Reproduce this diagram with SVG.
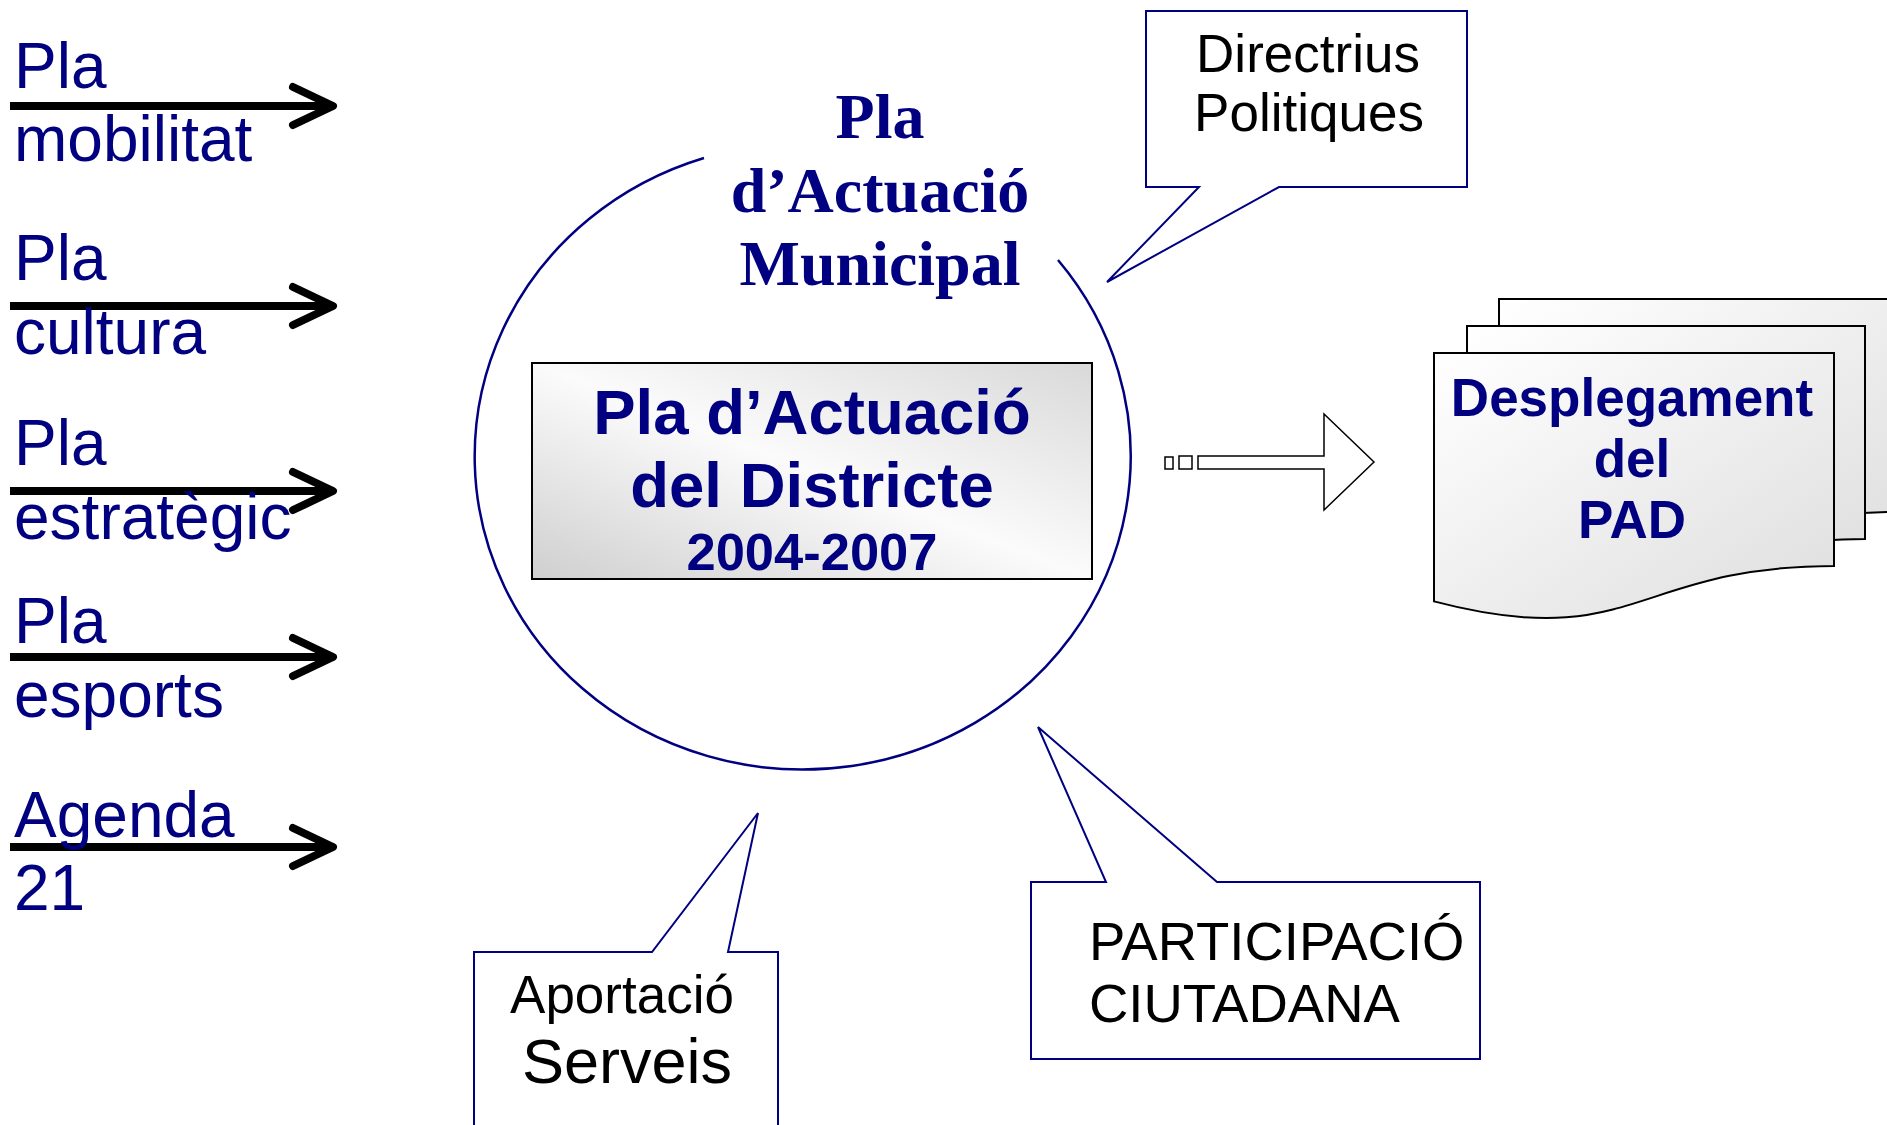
<svg xmlns="http://www.w3.org/2000/svg" width="1887" height="1125" viewBox="0 0 1887 1125">
<defs>
<style>
.lbl{font-family:"Liberation Sans",Arial,sans-serif;font-size:64px;fill:#000080}
.blue{fill:none;stroke:#000080;stroke-width:2.5}
.call{fill:#ffffff;stroke:#000080;stroke-width:2}
.ctext{font-family:"Liberation Sans",Arial,sans-serif;fill:#000000}
.bold{font-family:"Liberation Sans",Arial,sans-serif;font-weight:bold;fill:#000080}
.arr{fill:none;stroke:#000000;stroke-width:8}
.doc{fill:url(#docg);stroke:#000000;stroke-width:2}
</style>
<linearGradient id="docg" x1="0" y1="0" x2="1" y2="1">
<stop offset="0" stop-color="#ffffff"/>
<stop offset="1" stop-color="#dedede"/>
</linearGradient>
<linearGradient id="boxg" x1="0" y1="1" x2="1" y2="0">
<stop offset="0" stop-color="#cfcfcf"/>
<stop offset="0.5" stop-color="#fbfbfb"/>
<stop offset="1" stop-color="#d9d9d9"/>
</linearGradient>
</defs>
<rect width="1887" height="1125" fill="#ffffff"/>

<g id="connectors">
<g class="arr">
<line x1="10" y1="106" x2="328" y2="106"/>
<polyline points="293,87 333,106 293,125" stroke-linecap="round" stroke-linejoin="round"/>
<line x1="10" y1="306" x2="328" y2="306"/>
<polyline points="293,287 333,306 293,325" stroke-linecap="round" stroke-linejoin="round"/>
<line x1="10" y1="491" x2="328" y2="491"/>
<polyline points="293,472 333,491 293,510" stroke-linecap="round" stroke-linejoin="round"/>
<line x1="10" y1="657" x2="328" y2="657"/>
<polyline points="293,638 333,657 293,676" stroke-linecap="round" stroke-linejoin="round"/>
<line x1="10" y1="847" x2="328" y2="847"/>
<polyline points="293,828 333,847 293,866" stroke-linecap="round" stroke-linejoin="round"/>
</g>
<g id="striped-arrow" fill="#ffffff" stroke="#000000" stroke-width="1.5">
<rect x="1165" y="457" width="8" height="12"/>
<rect x="1179" y="456" width="13" height="13"/>
<polygon points="1198,456 1324,456 1324,414 1374,462 1324,510 1324,469 1198,469"/>
</g>
</g>

<g id="pla-mobilitat"><text class="lbl" x="14" y="88">Pla</text><text class="lbl" x="14" y="161">mobilitat</text></g>
<g id="pla-cultura"><text class="lbl" x="14" y="280">Pla</text><text class="lbl" x="14" y="354">cultura</text></g>
<g id="pla-estrategic"><text class="lbl" x="14" y="465">Pla</text><text class="lbl" x="14" y="539">estratègic</text></g>
<g id="pla-esports"><text class="lbl" x="14" y="643">Pla</text><text class="lbl" x="14" y="717">esports</text></g>
<g id="agenda21"><text class="lbl" x="14" y="837">Agenda</text><text class="lbl" x="14" y="910">21</text></g>

<g id="pam">
<path class="blue" d="M704,158 A328,313 0 1 0 1058,260"/>
<g font-family="'Liberation Serif','Times New Roman',serif" font-weight="bold" font-size="64" fill="#000080" text-anchor="middle">
<text x="880" y="138">Pla</text>
<text x="880" y="212">d’Actuació</text>
<text x="880" y="285">Municipal</text>
</g>
</g>

<g id="pad">
<rect x="532" y="363" width="560" height="216" fill="url(#boxg)" stroke="#000000" stroke-width="2"/>
<g class="bold" text-anchor="middle">
<text x="812" y="434" font-size="63.5">Pla d’Actuació</text>
<text x="812" y="507" font-size="63.5">del Districte</text>
<text x="812" y="570" font-size="52.5">2004-2007</text>
</g>
</g>

<g id="directrius">
<path class="call" d="M1146,11 H1467 V187 H1279 L1107,282 L1199,187 H1146 Z"/>
<g class="ctext" font-size="53" text-anchor="middle">
<text x="1308" y="72">Directrius</text>
<text x="1309" y="131">Politiques</text>
</g>
</g>

<g id="desplegament">
<path class="doc" d="M1499,299 H1899 V512 C1699,512 1699,600 1499,547.4 Z"/>
<path class="doc" d="M1467,326 H1865 V539 C1666,539 1666,627 1467,574.4 Z"/>
<path class="doc" d="M1434,353 H1834 V566 C1634,566 1634,654 1434,601.4 Z"/>
<g class="bold" font-size="53" text-anchor="middle">
<text x="1632" y="416">Desplegament</text>
<text x="1632" y="477">del</text>
<text x="1632" y="538">PAD</text>
</g>
</g>

<g id="aportacio">
<path class="call" d="M474,1130 V952 H652 L758,813 L728,952 H778 V1130"/>
<text class="ctext" x="622" y="1013" font-size="53" text-anchor="middle">Aportació</text>
<text class="ctext" x="627" y="1083" font-size="63" text-anchor="middle">Serveis</text>
</g>

<g id="participacio">
<path class="call" d="M1031,882 H1106 L1038,727 L1217,882 H1480 V1059 H1031 Z"/>
<text class="ctext" x="1089" y="960" font-size="54.5">PARTICIPACIÓ</text>
<text class="ctext" x="1089" y="1022" font-size="54.5">CIUTADANA</text>
</g>
</svg>
